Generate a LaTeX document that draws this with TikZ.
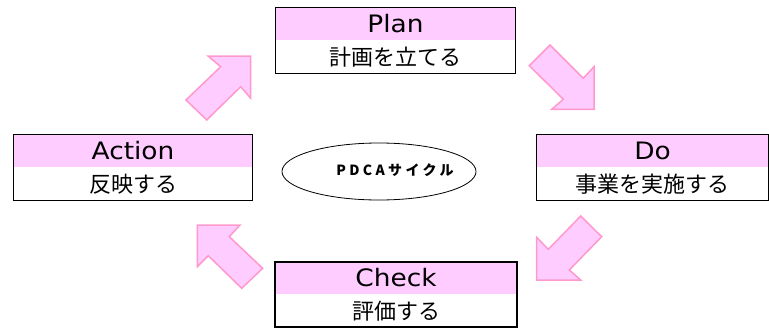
\documentclass[tikz,border=0pt]{standalone}
\usepackage{fontspec}
\setmainfont{DejaVu Sans}[FakeStretch=1.1]
\newfontfamily\jp{Noto Sans CJK JP}
\usetikzlibrary{positioning,shapes.geometric}
\definecolor{headpink}{RGB}{255,204,255}
\definecolor{arrowline}{RGB}{255,153,204}
\tikzset{
  headbox/.style={fill=headpink, inner sep=0pt, minimum height=32pt, font=\fontsize{24}{25}\selectfont},
  bodybox/.style={inner sep=0pt, minimum height=33pt, font=\jp\fontsize{22}{23}\selectfont},
  blockarrow/.style={fill=headpink, draw=arrowline, line width=1.5pt, line join=miter},
}

\begin{document}
\begin{tikzpicture}[x=1pt, y=-1pt]
   \useasboundingbox (0,0) rectangle (769,327);

   % arrows
   \draw[blockarrow] (250.7,56) -- (208,56) -- (220.7,66.7) -- (186,100) -- (206.7,120) -- (240.7,86.7) -- (250.7,98.3) -- cycle;
   \draw[blockarrow] (594,109.3) -- (551.7,109.3) -- (563.3,99.3) -- (529.3,65.7) -- (550,45) -- (583.3,78.3) -- (594,66.7) -- cycle;
   \draw[blockarrow] (536.7,280) -- (580.7,280) -- (569.3,270) -- (601.7,236.7) -- (580.7,216) -- (548.3,249.3) -- (536.7,237.3) -- cycle;
   \draw[blockarrow] (197.3,225) -- (240,225) -- (229.3,236.7) -- (262.7,268.3) -- (241.7,288.3) -- (208.3,255.7) -- (197.3,266.7) -- cycle;

   % boxes
   \node[headbox, minimum width=239pt] (plan) at (395.5,24) {Plan};
   \node[bodybox, minimum width=239pt, below=0pt of plan] (plantxt) {計画を立てる};
   \draw[line width=0.8pt] (plan.north west) rectangle (plantxt.south east);

   \node[headbox, minimum width=231pt] (do) at (652.5,151) {Do};
   \node[bodybox, minimum width=231pt, below=0pt of do] (dotxt) {事業を実施する};
   \draw[line width=0.8pt] (do.north west) rectangle (dotxt.south east);

   \node[headbox, minimum width=242pt] (check) at (396,278) {Check};
   \node[bodybox, minimum width=242pt, below=0pt of check] (checktxt) {評価する};
   \draw[line width=2.5pt] (check.north west) rectangle (checktxt.south east);

   \node[headbox, minimum width=238pt] (action) at (133,151) {Action};
   \node[bodybox, minimum width=238pt, below=0pt of action] (actiontxt) {反映する};
   \draw[line width=0.8pt] (action.north west) rectangle (actiontxt.south east);

   % centre
   \node[draw, ellipse, line width=0.8pt, minimum width=194pt, minimum height=57pt] (cyc) at (379,171.5) {};
   \node[font=\jp\bfseries\addfontfeature{LetterSpace=24}\fontsize{14}{15}\selectfont] (cyclabel) at (395,170) {PDCAサイクル};
\end{tikzpicture}
\end{document}
